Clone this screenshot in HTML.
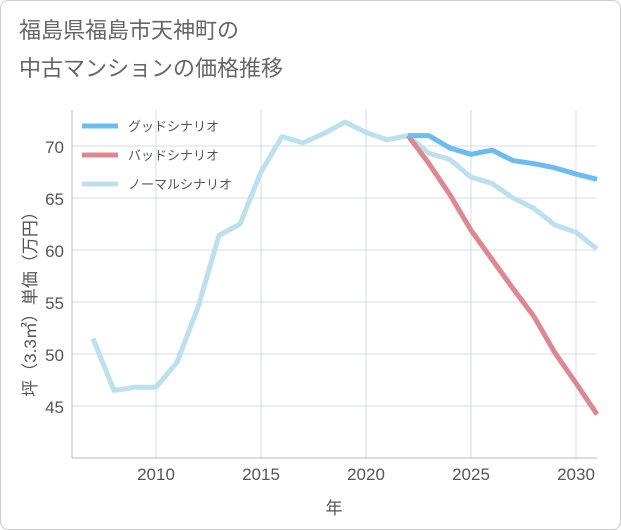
<!DOCTYPE html>
<html><head><meta charset="utf-8"><style>
body{margin:0;background:#fff;font-family:"Liberation Sans","Noto Sans CJK JP",sans-serif}
#wrap{width:619px;height:528px;border:1px solid #ccc;border-radius:8px;position:relative;overflow:hidden;background:#fff}
.t{position:absolute;left:18px;font-size:22px;color:#666;line-height:36px}
</style></head><body>
<div id="wrap">
<div class="t" style="top:12px">福島県福島市天神町の</div>
<div class="t" style="top:50px">中古マンションの価格推移</div>
<svg id="c" width="621" height="530" style="position:absolute;left:-1px;top:-1px"></svg>
</div>
<script>
const years=[2007,2008,2009,2010,2011,2012,2013,2014,2015,2016,2017,2018,2019,2020,2021,2022,2023,2024,2025,2026,2027,2028,2029,2030,2031];
const normal=[51.5,46.5,46.8,46.8,49.2,54.5,61.4,62.5,67.5,70.9,70.3,71.2,72.3,71.3,70.6,71.0,69.3,68.7,67.0,66.4,65.0,64.0,62.4,61.7,60.1];
const goodYears=[2022,2023,2024,2025,2026,2027,2028,2029,2030,2031];
const good=[71.0,71.0,69.8,69.2,69.6,68.6,68.3,67.9,67.3,66.8];
const bad=[71.0,68.3,65.3,61.9,59.1,56.3,53.6,50.1,47.2,44.2];
const xTicks=[2010,2015,2020,2025,2030];
const yTicks=[45,50,55,60,65,70];
const L=72,R=597,T=110,B=458;
const x=v=>156+(v-2010)*21;
const y=v=>146+(70-v)*10.4;
const s=document.getElementById('c'),NS='http://www.w3.org/2000/svg';
function el(tag,attrs,parent){const e=document.createElementNS(NS,tag);for(const k in attrs)e.setAttribute(k,attrs[k]);(parent||s).appendChild(e);return e;}
yTicks.forEach(v=>{const l=el('line',{x1:L,x2:R,y1:y(v),y2:y(v),stroke:'#d5dde6'});

const t=el('text',{x:64,y:y(v)+7,'text-anchor':'end','font-size':17,fill:'#555'});t.textContent=v;
});
xTicks.forEach(v=>{const l=el('line',{x1:x(v),x2:x(v),y1:T,y2:B,stroke:'#d5dde6'});

const t=el('text',{x:x(v),y:480,'text-anchor':'middle','font-size':17,fill:'#555'});t.textContent=v;
});
const ax=el('line',{x1:L,x2:L,y1:T,y2:B,stroke:'#bbb'});
const ax2=el('line',{x1:L,x2:R,y1:B,y2:B,stroke:'#bbb'});
const xt=el('text',{x:334,y:514,'text-anchor':'middle','font-size':17,fill:'#555'});xt.textContent='年';

const yt=el('text',{x:0,y:0,'text-anchor':'middle','font-size':17,fill:'#555',transform:'translate(36,300) rotate(-90)'});yt.textContent='坪（3.3㎡）単価（万円）';

function line(xs,vs,color,name){const p=el('polyline',{points:xs.map((v,i)=>x(v)+','+y(vs[i])).join(' '),fill:'none',stroke:color,'stroke-width':5,'stroke-linejoin':'round'});
}
line(years,normal,'#bde0ee','normal-scenario-line');
line(goodYears,bad,'#dd8890','bad-scenario-line');
line(goodYears,good,'#6bbcf0','good-scenario-line');
const leg=[['グッドシナリオ','#6bbcf0'],['バッドシナリオ','#dd8890'],['ノーマルシナリオ','#bde0ee']];
leg.forEach((d,i)=>{const yy=126+i*29;
const l=el('line',{x1:82,x2:118,y1:yy,y2:yy,stroke:d[1],'stroke-width':5});
const t=el('text',{x:128,y:yy+5,'font-size':13,fill:'#555'});t.textContent=d[0];});
</script>
</body></html>
